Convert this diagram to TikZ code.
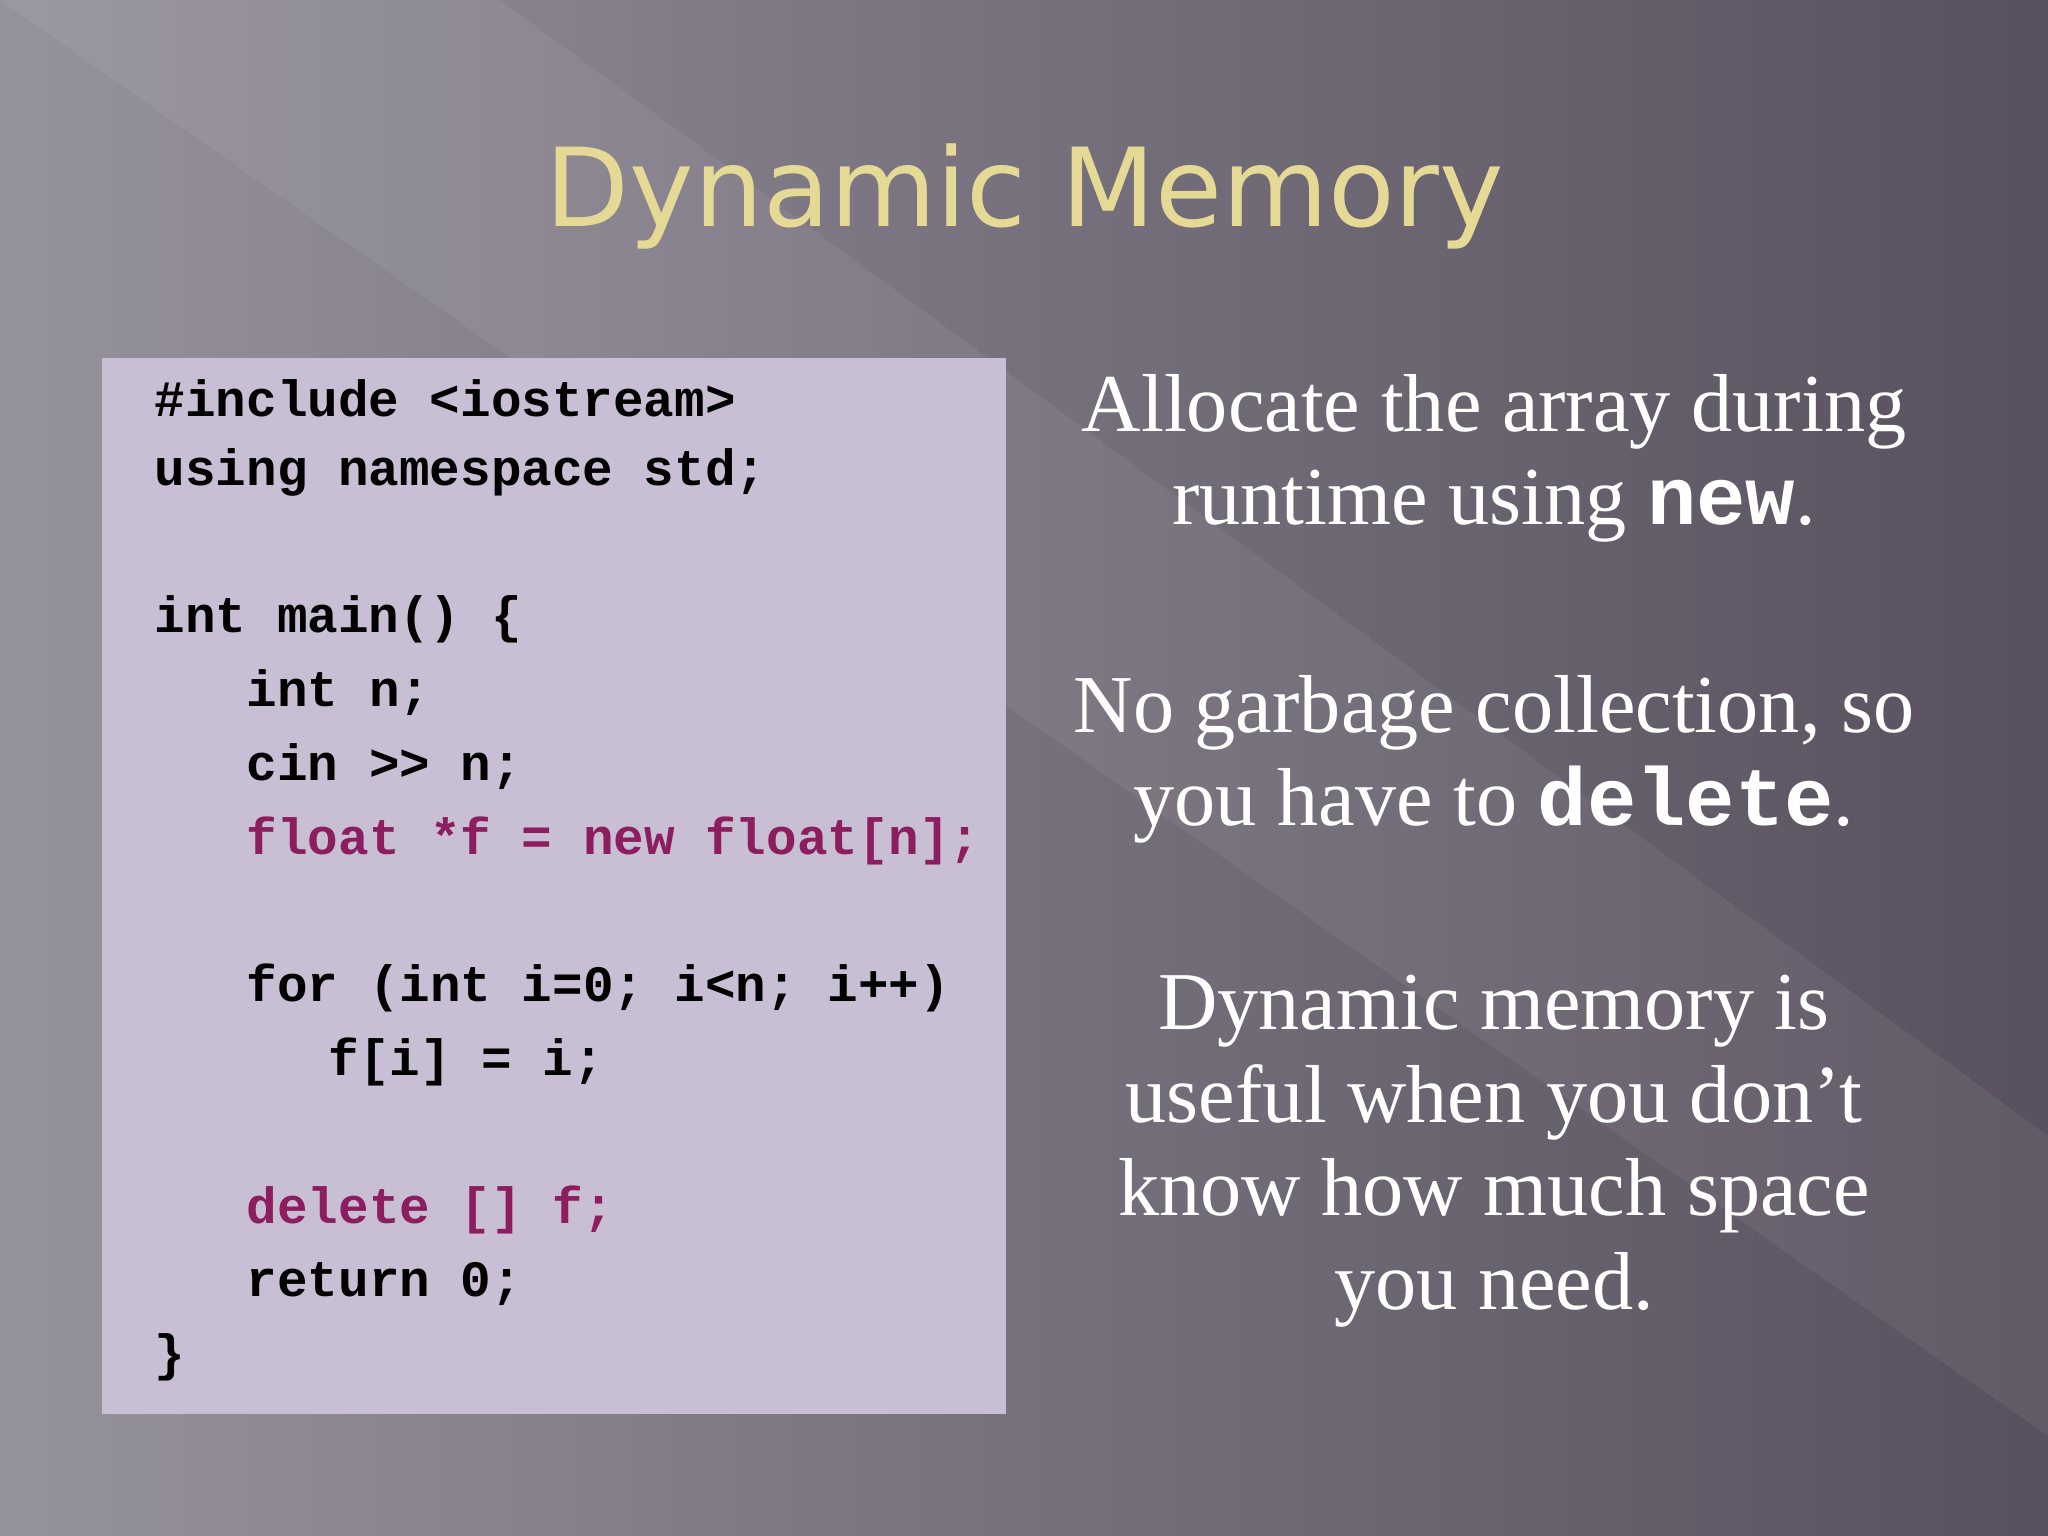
\documentclass[tikz,border=0pt]{standalone}
\usepackage{fontspec}
\setmainfont{Liberation Serif}
\newfontfamily\codefont{Liberation Mono}
\newfontfamily\titlefont{DejaVu Sans}
\usetikzlibrary{positioning}
\definecolor{bgleft}{RGB}{150,146,156}
\definecolor{bgright}{RGB}{88,80,94}
\definecolor{codebg}{RGB}{201,191,212}
\definecolor{hilite}{RGB}{140,30,95}
\definecolor{titlegold}{RGB}{228,218,150}

\begin{document}
\begin{tikzpicture}[
    code/.style={anchor=west, inner sep=0pt, font=\codefont\bfseries\fontsize{14.5}{16}\selectfont, text=black},
    hot/.style={code, text=hilite},
    note/.style={align=center, text=white, font=\fontsize{23.4}{26.5}\selectfont}
]
    % Background
    \shade[left color=bgleft, right color=bgright] (0,0) rectangle (20.48,15.36);
    \fill[white, opacity=0.06] (0,15.36) -- (5,15.36) -- (20.48,4) -- (20.48,1) -- cycle;
    \useasboundingbox (0,0) rectangle (20.48,15.36);

    % Title
    \node (title) at (10.25,13.4) {\titlefont\fontsize{31}{36}\selectfont\color{titlegold}Dynamic Memory};

    % Code box
    \fill[codebg] (1.02,1.22) rectangle (10.06,11.78);
    \node[code] (l1) at (1.54,11.38) {\#include <iostream>};
    \node[code] (l2) at (1.54,10.64) {using namespace std;};
    \node[code] (l4) at (1.54,9.17) {int main() \{};
    \node[code] (l5) at (2.46,8.43) {int n;};
    \node[code] (l6) at (2.46,7.69) {cin >> n;};
    \node[hot]  (l7) at (2.46,6.95) {float *f = new float[n];};
    \node[code] (l9) at (2.46,5.48) {for (int i=0; i<n; i++)};
    \node[code] (l10) at (3.28,4.74) {f[i] = i;};
    \node[hot]  (l12) at (2.46,3.26) {delete [] f;};
    \node[code] (l13) at (2.46,2.52) {return 0;};
    \node[code] (l14) at (1.54,1.79) {\}};

    % Notes
    \node[note] (alloc) at (14.94,10.78) {Allocate the array during\\runtime using {\codefont\bfseries new}.};
    \node[note] (gc) at (14.94,7.77) {No garbage collection, so\\you have to {\codefont\bfseries delete}.};
    \node[note] (use) at (14.94,3.85) {Dynamic memory is\\useful when you don’t\\know how much space\\you need.};
\end{tikzpicture}
\end{document}
